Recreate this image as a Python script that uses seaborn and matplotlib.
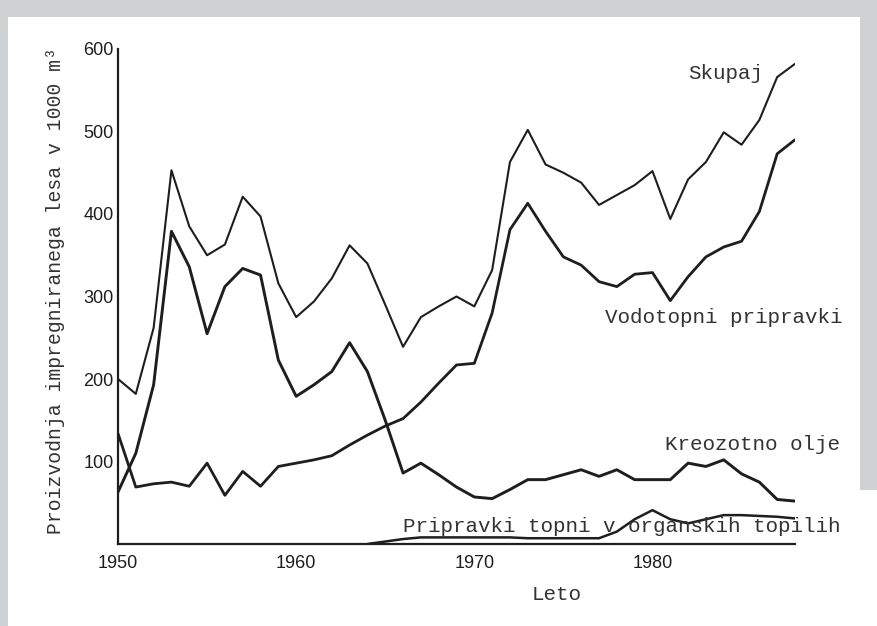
import numpy as np
import pandas as pd
import matplotlib.pyplot as plt
import seaborn as sns
from matplotlib.patches import Rectangle

# values (1000 m3 per year)
years = list(range(1950, 1989))
skupaj = [200, 182, 262, 453, 385, 350, 363, 421, 397, 316,
          275, 294, 322, 362, 340, 290, 239, 275, 288, 300,
          288, 332, 463, 502, 460, 450, 438, 411, 423, 435,
          452, 394, 442, 463, 499, 484, 514, 566, 582]
vodotopni = [134, 69, 73, 75, 70, 98, 59, 88, 70, 94,
             98, 102, 107, 120, 132, 143, 152, 172, 195, 217,
             219, 280, 381, 413, 379, 348, 338, 318, 312, 327,
             329, 295, 324, 348, 360, 367, 403, 473, 490]
kreozot = [63, 110, 193, 379, 336, 255, 312, 334, 326, 223,
           179, 193, 209, 244, 209, 150, 86, 98, 84, 69,
           57, 55, 66, 78, 78, 84, 90, 82, 90, 78,
           78, 78, 98, 94, 102, 85, 75, 54, 52]
org_years = list(range(1964, 1989))
organska = [0, 3, 6, 8, 8, 8, 8, 8, 8, 7,
            7, 7, 7, 7, 15, 30, 41, 30, 25, 30,
            35, 35, 34, 33, 31]

labels = {
    'skupaj': 'Skupaj',
    'vodotopni': 'Vodotopni pripravki',
    'kreozot': 'Kreozotno olje',
    'organska': 'Pripravki topni v organskih topilih',
}

sns.set_theme(style='white')
plt.rcParams['font.family'] = ['Liberation Sans', 'DejaVu Sans']
mono = ['Liberation Mono', 'DejaVu Sans Mono']
ink = '#1e1e1e'

fig = plt.figure(figsize=(8.77, 6.26), dpi=100, facecolor='white')
# grey scan border
grey = '#d0d1d3'
fig.patches.append(Rectangle((0, 1 - 17 / 626), 1, 17 / 626, transform=fig.transFigure,
                             facecolor=grey, edgecolor='none', zorder=-1))
fig.patches.append(Rectangle((0, 0), 8 / 877, 1, transform=fig.transFigure,
                             facecolor=grey, edgecolor='none', zorder=-1))
fig.patches.append(Rectangle((860 / 877, 1 - 490 / 626), 17 / 877, 490 / 626,
                             transform=fig.transFigure,
                             facecolor=grey, edgecolor='none', zorder=-1))

ax = fig.add_axes([118 / 877, 1 - 544 / 626, (795 - 118) / 877, (544 - 49) / 626])
ax.set_facecolor('none')

df = pd.DataFrame({'Leto': years, 'skupaj': skupaj, 'vodotopni': vodotopni, 'kreozot': kreozot})
sns.lineplot(data=df, x='Leto', y='skupaj', ax=ax, color=ink, linewidth=1.5)
sns.lineplot(data=df, x='Leto', y='vodotopni', ax=ax, color=ink, linewidth=2.0)
sns.lineplot(data=df, x='Leto', y='kreozot', ax=ax, color=ink, linewidth=2.1)
sns.lineplot(x=org_years, y=organska, ax=ax, color=ink, linewidth=1.8)

ax.set_xlim(1950, 1988)
ax.set_ylim(0, 600)
ax.set_xticks(list(range(1950, 1986, 5)) + [1988])
ax.set_xticklabels(['1950', '', '1960', '', '1970', '', '1980', '', ''])
ax.set_yticks([100, 200, 300, 400, 500, 600])
ax.tick_params(axis='both', direction='in', length=5, width=1.4, color=ink,
               labelsize=13, labelcolor='#1e1e1e', pad=3)
ax.tick_params(axis='x', pad=8)
ax.set_xlabel('')
ax.set_ylabel('')
sns.despine(ax=ax)
for s in ['left', 'bottom']:
    ax.spines[s].set_linewidth(1.6)
    ax.spines[s].set_color(ink)

txt = dict(family=mono, fontsize=15, color='#333333')
ax.text(1986.2, 570, labels['skupaj'], ha='right', va='center', **txt)
ax.text(1984.0, 275, labels['vodotopni'], ha='center', va='center', **txt)
ax.text(1985.6, 120, labels['kreozot'], ha='center', va='center', **txt)
ax.text(1966.0, 21, labels['organska'], ha='left', va='center', **txt)

fig.text(557 / 877, 1 - 595 / 626, 'Leto', ha='center', va='center', **txt)
fig.text(56 / 877, 1 - 291 / 626, 'Proizvodnja impregniranega lesa v 1000 m\u00b3',
         rotation=90, ha='center', va='center', family=mono, fontsize=14.2, color='#333333')

plt.savefig('out.png', dpi=100, facecolor=fig.get_facecolor())
